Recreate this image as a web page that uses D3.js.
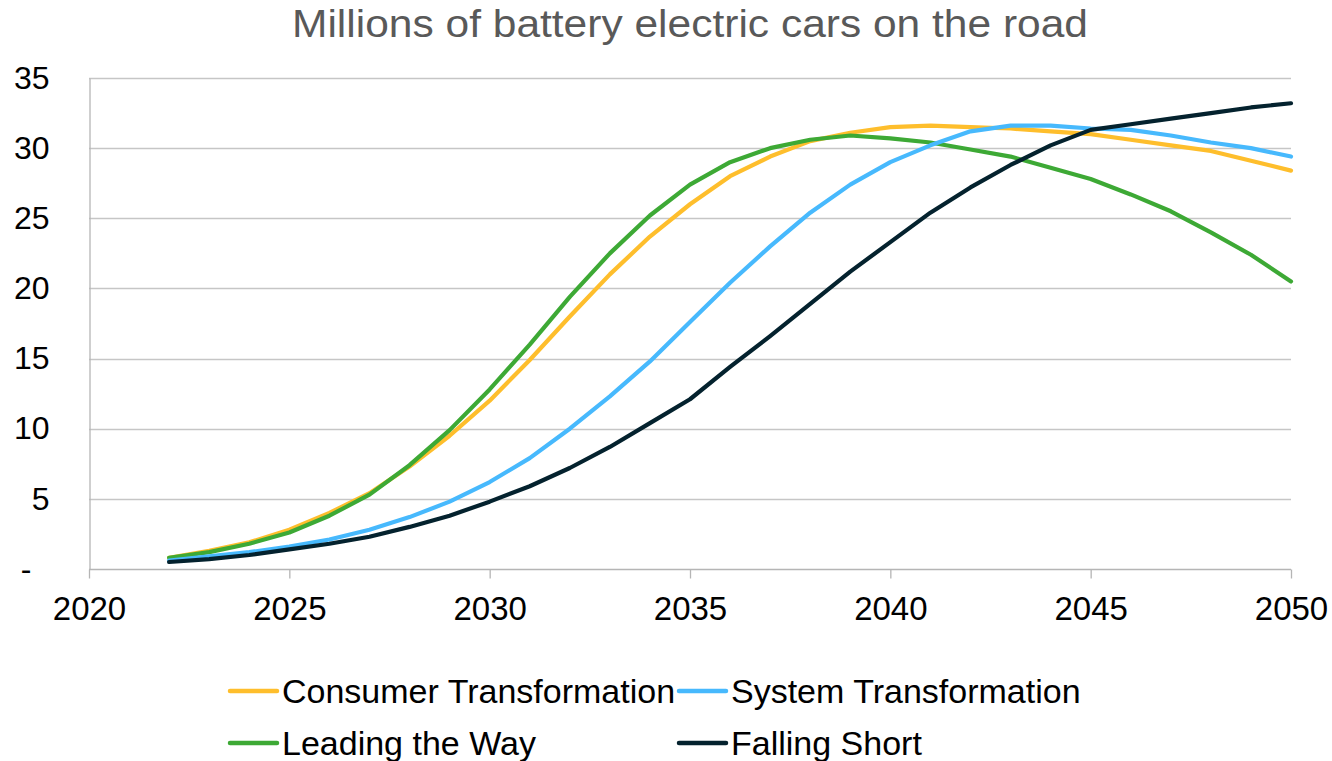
<!DOCTYPE html>
<html>
<head>
<meta charset="utf-8">
<script src="https://cdn.jsdelivr.net/npm/d3@7"></script>
<style>
  html, body { margin: 0; padding: 0; background: #ffffff; }
  svg { display: block; font-family: "Liberation Sans", Arial, sans-serif; }
</style>
</head>
<body>
<svg id="chart" width="1332" height="761"></svg>
<script>
// Years covered by the projections
const years = d3.range(2022, 2051);

// Millions of battery electric cars, one value per year
const consumerTransformation = [0.8, 1.3, 1.9, 2.8, 4.0, 5.4, 7.3, 9.5, 12.0, 14.9, 18.0, 21.0, 23.7, 26.0, 28.0, 29.4, 30.5, 31.1, 31.5, 31.6, 31.5, 31.4, 31.2, 31.0, 30.6, 30.2, 29.8, 29.1, 28.4];
const systemTransformation   = [0.6, 0.9, 1.2, 1.6, 2.1, 2.8, 3.7, 4.8, 6.2, 7.9, 10.0, 12.3, 14.8, 17.6, 20.4, 23.0, 25.4, 27.4, 29.0, 30.2, 31.2, 31.6, 31.6, 31.4, 31.3, 30.9, 30.4, 30.0, 29.4];
const leadingTheWay          = [0.8, 1.2, 1.8, 2.6, 3.8, 5.3, 7.4, 9.9, 12.8, 16.0, 19.4, 22.5, 25.2, 27.4, 29.0, 30.0, 30.6, 30.9, 30.7, 30.4, 29.9, 29.4, 28.6, 27.8, 26.7, 25.5, 24.0, 22.4, 20.5];
const fallingShort           = [0.5, 0.7, 1.0, 1.4, 1.8, 2.3, 3.0, 3.8, 4.8, 5.9, 7.2, 8.7, 10.4, 12.1, 14.4, 16.6, 18.9, 21.2, 23.3, 25.4, 27.2, 28.8, 30.2, 31.3, 31.7, 32.1, 32.5, 32.9, 33.2];

// Axis ticks
const xTicks = [2020, 2025, 2030, 2035, 2040, 2045, 2050];
const yTicks = [0, 5, 10, 15, 20, 25, 30, 35];

const seriesNames  = ["Consumer Transformation", "System Transformation", "Leading the Way", "Falling Short"];
const seriesValues = [consumerTransformation, systemTransformation, leadingTheWay, fallingShort];
const seriesColors = ["#FEBE2C", "#47B9FD", "#3DA935", "#04222E"];

const svg = d3.select("#chart");

const plot = { left: 89, right: 1291, top: 78, bottom: 569 };

const x = d3.scaleLinear().domain([2020, 2050]).range([plot.left, plot.right]);
const y = d3.scaleLinear().domain([0, 35]).range([plot.bottom, plot.top]);

// Title
svg.append("text")
  .attr("x", 690)
  .attr("y", 37)
  .attr("text-anchor", "middle")
  .attr("fill", "#595959")
  .attr("textLength", 796)
  .attr("lengthAdjust", "spacingAndGlyphs")
  .style("font-size", "38px")
  .text("Millions of battery electric cars on the road");

// Horizontal gridlines
svg.append("g")
  .selectAll("line")
  .data(yTicks.filter(d => d > 0))
  .join("line")
  .attr("x1", plot.left)
  .attr("x2", plot.right)
  .attr("y1", d => Math.round(y(d)) + 0.5)
  .attr("y2", d => Math.round(y(d)) + 0.5)
  .attr("stroke", "#c6c6c6")
  .attr("stroke-width", 1.3);

// Y axis (zero shown as a dash, set further left like an accounting format)
const yAxis = svg.append("g")
  .attr("transform", `translate(${plot.left + 0.5},0)`)
  .call(d3.axisLeft(y).tickValues(yTicks).tickSize(0).tickPadding(40)
    .tickFormat(d => d === 0 ? "-" : d3.format("d")(d)));
yAxis.select(".domain").attr("stroke", "#b5b5b5").attr("stroke-width", 1.3);
yAxis.selectAll("text")
  .attr("fill", "#000")
  .attr("dx", d => d === 0 ? -18 : 0)
  .style("font-size", "32px")
  .style("font-family", "'Liberation Sans', Arial, sans-serif");

// X axis
const xAxis = svg.append("g")
  .attr("transform", `translate(0,${plot.bottom + 0.5})`)
  .call(d3.axisBottom(x).tickValues(xTicks).tickSize(9).tickPadding(18)
    .tickFormat(d3.format("d")));
xAxis.select(".domain").attr("stroke", "#b5b5b5").attr("stroke-width", 1.3)
  .attr("d", `M${plot.left},0H${plot.right}`);
xAxis.selectAll(".tick line").attr("stroke", "#b5b5b5").attr("stroke-width", 1.3);
xAxis.selectAll("text")
  .attr("fill", "#000")
  .style("font-size", "33px")
  .style("font-family", "'Liberation Sans', Arial, sans-serif");

// Series lines
const line = d3.line()
  .x((d, i) => x(years[i]))
  .y(d => y(d));

const drawOrder = [0, 2, 1, 3];
svg.append("g")
  .selectAll("path")
  .data(drawOrder)
  .join("path")
  .attr("fill", "none")
  .attr("stroke", i => seriesColors[i])
  .attr("stroke-width", 4.2)
  .attr("stroke-linejoin", "round")
  .attr("stroke-linecap", "round")
  .attr("d", i => line(seriesValues[i]));

// Legend: two rows, two columns
const legendItems = seriesNames.map((name, i) => ({
  name,
  color: seriesColors[i],
  col: i % 2,
  row: Math.floor(i / 2)
}));
const colX = [228, 677];
const rowY = [691, 743];

const legend = svg.append("g")
  .selectAll("g")
  .data(legendItems)
  .join("g")
  .attr("transform", d => `translate(${colX[d.col]},${rowY[d.row]})`);

legend.append("line")
  .attr("x1", 2).attr("x2", 49)
  .attr("y1", 0).attr("y2", 0)
  .attr("stroke", d => d.color)
  .attr("stroke-width", 4.5)
  .attr("stroke-linecap", "round");

legend.append("text")
  .attr("x", 54)
  .attr("y", 12)
  .attr("fill", "#000")
  .style("font-size", "34px")
  .text(d => d.name);
</script>
</body>
</html>
